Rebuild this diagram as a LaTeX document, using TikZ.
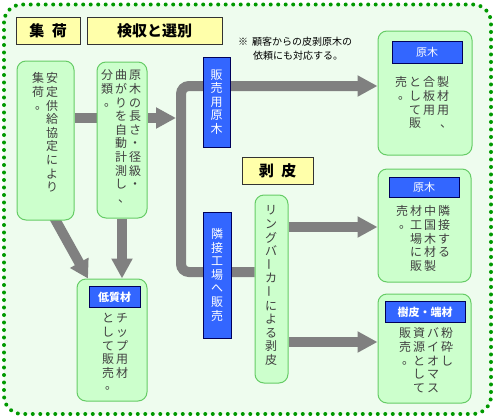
\documentclass[tikz,border=0pt]{standalone}
\usepackage{fontspec}
\setmainfont{Noto Sans CJK JP}
\usepackage{tikz}
\usetikzlibrary{arrows.meta, positioning, calc, backgrounds}

\definecolor{boxgreen}{RGB}{204,255,204}
\definecolor{edgegreen}{RGB}{102,204,102}
\definecolor{dotgreen}{RGB}{0,153,0}
\definecolor{labelblue}{RGB}{51,102,255}
\definecolor{edgeblue}{RGB}{0,0,90}
\definecolor{labelyellow}{RGB}{255,255,170}
\definecolor{bargray}{RGB}{128,128,128}
\definecolor{paper}{RGB}{238,252,238}

% one column of vertical text
\makeatletter
\newcommand\tatecol[1]{\vtop{\baselineskip=13.6pt\lineskiplimit=-20pt%
    \@tfor\tc@ch:=#1\do{\hbox to 14pt{\hss\vrule width0pt height10pt depth1.5pt\tc@ch\hss}}}}
\makeatother
\newcommand\chouon{\raisebox{-1pt}{\rotatebox{90}{ー}}}
\newcommand\maru{\hbox to 12pt{\kern3pt\raisebox{1pt}{。}\hss}}
\newcommand\ten{\hbox to 12pt{\kern3pt 、\hss}}

\begin{document}
\begin{tikzpicture}[x=1pt, y=-1pt,
        gbox/.style={draw=edgegreen, fill=boxgreen, line width=1pt, rounded corners=9pt},
        bbox/.style={draw=edgeblue, fill=labelblue, text=white, line width=0.8pt, inner sep=0pt},
        ybox/.style={draw=black!80, fill=labelyellow, line width=0.8pt, font=\bfseries\fontsize{15}{15}\selectfont},
        txt/.style={inner sep=0pt, anchor=north, font=\fontsize{12}{13.6}\selectfont, text=black!75},
        tag/.style={bbox, font=\fontsize{11}{11}\selectfont, anchor=north},
        bar/.style={draw=bargray, line width=10pt},
        head/.style={-{Triangle[length=20pt, width=20pt]}}]

        \useasboundingbox (0,0) rectangle (495,418);

        \begin{scope}[on background layer]
            \draw[dotgreen, fill=paper, line width=4pt, line cap=round, dash pattern=on 0pt off 7.5pt, rounded corners=18pt] (4,4.5) rectangle (491,414);
        \end{scope}

        % headings
        \node[ybox, minimum width=64, minimum height=27] (shukaL) at (48,30.5) {集\hspace{0.5em}荷};
        \node[ybox, minimum width=135, minimum height=27] (senbetsuL) at (154.5,30.5) {検収と選別};
        \node[ybox, minimum width=71, minimum height=27] (hakuhiL) at (277.5,170.5) {剥\hspace{0.5em}皮};

        \node[anchor=north west, align=left, inner sep=0pt, font=\fontsize{10}{14}\selectfont] (note) at (238,37)
            {※\hspace{4pt}顧客からの皮剥原木の\\\hspace*{15pt}依頼にも対応する。};

        % green boxes
        \node[gbox, minimum width=57, minimum height=159] (shuka) at (45.5,140.5) {};
        \node[txt] (shukaT) at (45,72.6) {\tatecol{集荷\maru}\tatecol{安定供給協定により}};

        \node[gbox, minimum width=50, minimum height=156] (senbetsu) at (122,140) {};
        \node[txt] (senbetsuT) at (121,69.6) {\tatecol{分類\maru}\tatecol{曲がりを自動計測し\ten}\tatecol{原木の長さ・径級・}};

        \node[gbox, minimum width=94, minimum height=124] (goban) at (425,93) {};
        \node[tag, minimum width=70, minimum height=22] (gobanL) at (427,41) {原木};
        \node[txt] (gobanT) at (422,76.6) {\tatecol{売\maru}\tatecol{として販}\tatecol{合板用}\tatecol{製材用\ten}};

        \node[gbox, minimum width=93, minimum height=113] (rinsetsu) at (424.5,225.5) {};
        \node[tag, minimum width=70, minimum height=20] (rinsetsuL) at (424,177) {原木};
        \node[txt] (rinsetsuT) at (423,205.6) {\tatecol{売\maru}\tatecol{材工場に販}\tatecol{中国木材製}\tatecol{隣接する}};

        \node[gbox, minimum width=93, minimum height=109] (jupi) at (424.5,348.5) {};
        \node[tag, minimum width=80, minimum height=21, font=\bfseries\fontsize{11}{11}\selectfont] (jupiL) at (425,301) {樹皮・端材};
        \node[txt] (jupiT) at (426,327.6) {\tatecol{販売\maru}\tatecol{資源として}\tatecol{バイオマス}\tatecol{粉砕し}};

        \node[gbox, minimum width=33, minimum height=188] (barker) at (271.5,289) {};
        \node[txt] (barkerT) at (271,204.6) {\tatecol{リングバ\chouon カ\chouon による剥皮}};

        \node[gbox, minimum width=70, minimum height=122] (teishitsu) at (112,340) {};
        \node[tag, minimum width=51, minimum height=21, font=\bfseries\fontsize{11}{11}\selectfont] (teishitsuL) at (114.5,286) {低質材};
        \node[txt] (teishitsuT) at (115,312.6) {\tatecol{として販売\maru}\tatecol{チップ用材}};

        % blue boxes on the trunk
        \node[bbox, minimum width=27, minimum height=90, font=\fontsize{12}{13.6}\selectfont] (hanbai) at (216.5,102) {\tatecol{販売用原木}};
        \node[bbox, minimum width=28, minimum height=126, font=\fontsize{12}{13.6}\selectfont] (rinsetsuH) at (217,275) {\tatecol{隣接工場へ販売}};

        \coordinate (trunkN) at (181,86);
        \coordinate (trunkS) at (181,272);
        \coordinate (hub) at (176,118);

        \begin{scope}[on background layer]
            \draw[bar] (shuka.east |- hub) -- (senbetsu.west |- hub);
            \draw[bar, head] (senbetsu.east |- hub) -- (hub);
            \draw[bar, head, rounded corners=8pt] (barker.west |- trunkS) -- (trunkS) -- (trunkN) -- (goban.west |- trunkN);
            \draw[bar, head] (barker.east |- 0,227) -- (rinsetsu.west |- 0,227);
            \draw[bar, head] (barker.east |- 0,342) -- (jupi.west |- 0,342);
            \draw[bar, -{Triangle[length=18pt, width=20pt]}] ([xshift=8pt, yshift=4pt]shuka.south) -- ([xshift=-24pt]teishitsu.north);
            \draw[bar, head] (senbetsu.south) -- (senbetsu.south |- teishitsu.north);
        \end{scope}
\end{tikzpicture}
\end{document}
